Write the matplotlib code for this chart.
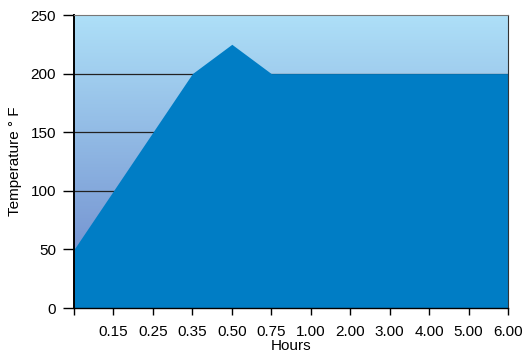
import matplotlib
matplotlib.use('Agg')
import matplotlib.pyplot as plt
import numpy as np
from matplotlib.colors import LinearSegmentedColormap

plt.rcParams['font.family'] = ['Liberation Sans', 'DejaVu Sans']

hours = ['', '0.15', '0.25', '0.35', '0.50', '0.75', '1.00', '2.00', '3.00', '4.00', '5.00', '6.00']
temps = [50, 100, 150, 200, 225, 200, 200, 200, 200, 200, 200, 200]
yticks = [0, 50, 100, 150, 200, 250]

x = np.arange(len(hours))

fig = plt.figure(figsize=(5.24, 3.54), dpi=100)
ax = fig.add_axes([0.1412, 0.1299, 0.8283, 0.8277])

# background gradient, purple-blue at bottom to light cyan at top
cmap = LinearSegmentedColormap.from_list('bg', ['#6984c9', '#aee0f8'])
grad = np.linspace(0, 1, 256).reshape(-1, 1)
ax.imshow(grad, cmap=cmap, origin='lower', aspect='auto',
          extent=[x[0], x[-1], 0, 250], zorder=0)

for yv in yticks[1:-1]:
    ax.axhline(yv, color='#222222', lw=0.9, zorder=1)

ax.fill_between(x, temps, 0, color='#007dc5', lw=0, zorder=2)

ax.set_xlim(x[0], x[-1])
ax.set_ylim(0, 250)
ax.set_xticks(x)
ax.set_xticklabels(hours)
ax.set_yticks(yticks)
ax.tick_params(axis='x', length=5, width=1, pad=7, labelsize=11)
ax.tick_params(axis='y', length=8, width=1, pad=5, labelsize=11)

ax.spines['left'].set_linewidth(1.4)
ax.spines['right'].set_color('#333333')
ax.spines['top'].set_color('#777777')
ax.spines['bottom'].set_linewidth(1.0)

ax.set_xlabel('Hours', fontsize=11, labelpad=0)
ax.set_ylabel('Temperature ° F', fontsize=11, labelpad=6)

fig.savefig('out.png', dpi=100)
